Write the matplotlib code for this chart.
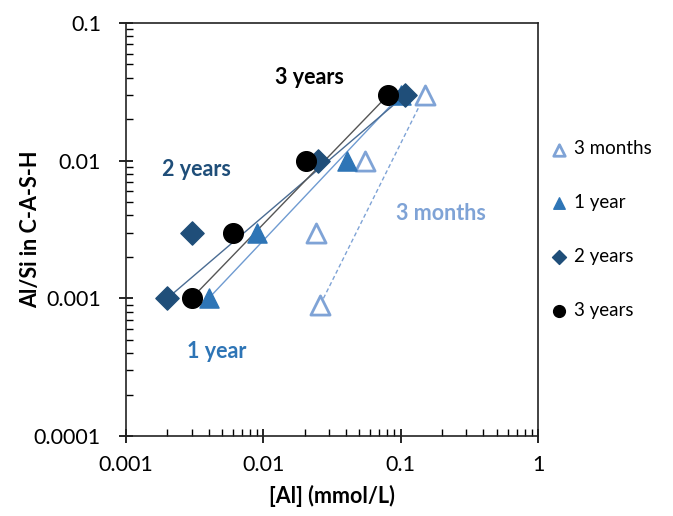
import matplotlib
matplotlib.use("Agg")
import matplotlib.pyplot as plt
from matplotlib.ticker import LogLocator, FixedFormatter, FixedLocator, NullFormatter

plt.rcParams['font.family'] = ['Lato', 'DejaVu Sans']

# Data
m3_x = [0.026, 0.024, 0.055, 0.15]
m3_y = [0.0009, 0.003, 0.01, 0.03]
y1_x = [0.004, 0.009, 0.041, 0.10]
y1_y = [0.001, 0.003, 0.01, 0.03]
y2_x = [0.002, 0.003, 0.025, 0.108]
y2_y = [0.001, 0.003, 0.01, 0.03]
y3_x = [0.003, 0.006, 0.0205, 0.081]
y3_y = [0.001, 0.003, 0.01, 0.03]

xticks = [0.001, 0.01, 0.1, 1]
xticklabels = ['0.001', '0.01', '0.1', '1']
yticks = [0.0001, 0.001, 0.01, 0.1]
yticklabels = ['0.0001', '0.001', '0.01', '0.1']

c_m3 = '#7FA3D6'
c_y1 = '#2E75B6'
c_y2 = '#1F4E79'
c_y3 = '#000000'

FS = 15.5

fig = plt.figure(figsize=(6.73, 5.16), dpi=100)
ax = fig.add_axes([0.1872, 0.155, 0.6122, 0.8004])
ax.set_xscale('log')
ax.set_yscale('log')
ax.set_xlim(0.001, 1)
ax.set_ylim(0.0001, 0.1)

# connecting lines (first to last)
ax.plot([m3_x[0], m3_x[-1]], [m3_y[0], m3_y[-1]], color=c_m3, lw=1, ls=(0, (3, 2)), zorder=1)
ax.plot([y1_x[0], y1_x[-1]], [y1_y[0], y1_y[-1]], color='#6F9BD1', lw=1, zorder=1)
ax.plot([y2_x[0], y2_x[-1]], [y2_y[0], y2_y[-1]], color='#4A6C93', lw=1, zorder=1)
ax.plot([y3_x[0], y3_x[-1]], [y3_y[0], y3_y[-1]], color='#555555', lw=1, zorder=1)

ax.scatter(m3_x, m3_y, marker='^', s=190, facecolors='white', edgecolors=c_m3, linewidths=2, zorder=3, label='3 months')
ax.scatter(y1_x, y1_y, marker='^', s=190, color=c_y1, zorder=4, label='1 year')
ax.scatter(y2_x, y2_y, marker='D', s=140, color=c_y2, zorder=5, label='2 years')
ax.scatter(y3_x, y3_y, marker='o', s=200, color=c_y3, zorder=6, label='3 years')

# annotations
ax.text(0.0218, 0.040, '3 years', color=c_y3, fontsize=FS, fontweight='bold', ha='center', va='center')
ax.text(0.00328, 0.0087, '2 years', color=c_y2, fontsize=FS, fontweight='bold', ha='center', va='center')
ax.text(0.195, 0.0041, '3 months', color=c_m3, fontsize=FS, fontweight='bold', ha='center', va='center')
ax.text(0.0046, 0.00041, '1 year', color=c_y1, fontsize=FS, fontweight='bold', ha='center', va='center')

# ticks
ax.xaxis.set_major_locator(FixedLocator(xticks))
ax.xaxis.set_major_formatter(FixedFormatter(xticklabels))
ax.yaxis.set_major_locator(FixedLocator(yticks))
ax.yaxis.set_major_formatter(FixedFormatter(yticklabels))
ax.xaxis.set_minor_locator(LogLocator(base=10, subs=range(2, 10)))
ax.yaxis.set_minor_locator(LogLocator(base=10, subs=range(2, 10)))
ax.xaxis.set_minor_formatter(NullFormatter())
ax.yaxis.set_minor_formatter(NullFormatter())
ax.tick_params(which='major', direction='inout', length=10, width=1.2, labelsize=FS)
ax.tick_params(axis='x', which='major', pad=9)
ax.tick_params(axis='y', which='major', pad=13)
ax.tick_params(which='minor', direction='in', length=5, width=1)
ax.tick_params(top=False, right=False)
for s in ax.spines.values():
    s.set_linewidth(1.2)
    s.set_color('#222222')

ax.set_xlabel('[Al] (mmol/L)', fontsize=FS, fontweight='bold', labelpad=7)
ax.set_ylabel('Al/Si in C-A-S-H', fontsize=FS, fontweight='bold')
ax.yaxis.set_label_coords(-0.205, 0.5)

leg = fig.legend(loc='center left', bbox_to_anchor=(0.777, 0.555), frameon=False,
                 fontsize=13.5, labelspacing=1.96, handletextpad=-0.2, markerscale=0.6)

fig.savefig('out.png', dpi=100)
